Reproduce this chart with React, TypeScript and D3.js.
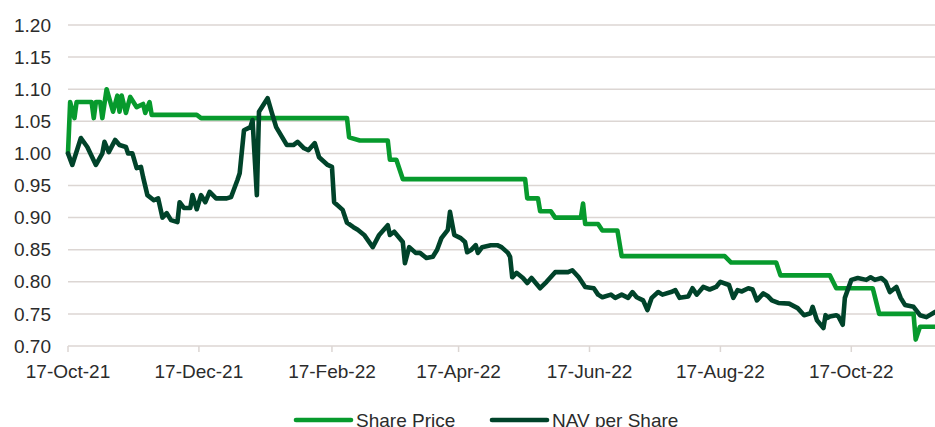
import React, { useEffect, useRef } from "react";
import * as d3 from "d3";

// share price (step-like)
const sharePrice: [string, number][] = [
  ["2021-10-17", 1.0], ["2021-10-18", 1.08], ["2021-10-20", 1.055], ["2021-10-21", 1.08],
  ["2021-10-28", 1.08], ["2021-10-29", 1.055], ["2021-10-30", 1.08], ["2021-11-01", 1.08],
  ["2021-11-02", 1.055], ["2021-11-04", 1.1], ["2021-11-07", 1.065], ["2021-11-09", 1.09],
  ["2021-11-10", 1.065], ["2021-11-11", 1.09], ["2021-11-13", 1.063], ["2021-11-15", 1.088],
  ["2021-11-18", 1.072], ["2021-11-21", 1.077], ["2021-11-22", 1.063], ["2021-11-24", 1.08],
  ["2021-11-25", 1.06], ["2021-12-16", 1.06], ["2021-12-18", 1.055], ["2022-02-24", 1.055],
  ["2022-02-25", 1.025], ["2022-03-02", 1.02], ["2022-03-15", 1.02], ["2022-03-16", 0.99],
  ["2022-03-19", 0.99], ["2022-03-22", 0.96], ["2022-05-18", 0.96], ["2022-05-19", 0.93],
  ["2022-05-24", 0.93], ["2022-05-25", 0.91], ["2022-05-30", 0.91], ["2022-06-01", 0.9],
  ["2022-06-13", 0.9], ["2022-06-14", 0.922], ["2022-06-15", 0.89], ["2022-06-21", 0.89],
  ["2022-06-23", 0.88], ["2022-06-30", 0.88], ["2022-07-02", 0.84], ["2022-08-19", 0.84],
  ["2022-08-22", 0.83], ["2022-09-12", 0.83], ["2022-09-14", 0.81], ["2022-10-07", 0.81],
  ["2022-10-10", 0.79], ["2022-10-27", 0.79], ["2022-10-30", 0.75], ["2022-11-15", 0.75],
  ["2022-11-16", 0.71], ["2022-11-18", 0.73], ["2022-11-25", 0.73],
];

// NAV per share
const navPerShare: [string, number][] = [
  ["2021-10-17", 1.0], ["2021-10-19", 0.982], ["2021-10-23", 1.024], ["2021-10-26", 1.01],
  ["2021-10-30", 0.982], ["2021-11-02", 1.0], ["2021-11-03", 1.018], ["2021-11-05", 1.002],
  ["2021-11-08", 1.021], ["2021-11-10", 1.013], ["2021-11-13", 1.01], ["2021-11-14", 1.0],
  ["2021-11-16", 1.0], ["2021-11-18", 0.977], ["2021-11-20", 0.979], ["2021-11-21", 0.963],
  ["2021-11-23", 0.935], ["2021-11-26", 0.927], ["2021-11-28", 0.93], ["2021-11-30", 0.9],
  ["2021-12-02", 0.907], ["2021-12-04", 0.896], ["2021-12-07", 0.893], ["2021-12-08", 0.924],
  ["2021-12-10", 0.915], ["2021-12-13", 0.915], ["2021-12-14", 0.935], ["2021-12-16", 0.913],
  ["2021-12-18", 0.935], ["2021-12-20", 0.924], ["2021-12-22", 0.94], ["2021-12-25", 0.93],
  ["2021-12-30", 0.93], ["2022-01-01", 0.932], ["2022-01-04", 0.959], ["2022-01-05", 0.969],
  ["2022-01-07", 1.036], ["2022-01-10", 1.041], ["2022-01-11", 1.052], ["2022-01-13", 0.935],
  ["2022-01-14", 1.065], ["2022-01-18", 1.086], ["2022-01-20", 1.063], ["2022-01-22", 1.041],
  ["2022-01-27", 1.013], ["2022-01-30", 1.013], ["2022-02-01", 1.018], ["2022-02-04", 1.008],
  ["2022-02-06", 1.005], ["2022-02-09", 1.016], ["2022-02-11", 0.994], ["2022-02-15", 0.982],
  ["2022-02-17", 0.979], ["2022-02-18", 0.924], ["2022-02-22", 0.912], ["2022-02-24", 0.892],
  ["2022-02-27", 0.885], ["2022-03-01", 0.881], ["2022-03-04", 0.873], ["2022-03-08", 0.854],
  ["2022-03-11", 0.873], ["2022-03-15", 0.888], ["2022-03-16", 0.873], ["2022-03-18", 0.878],
  ["2022-03-22", 0.862], ["2022-03-23", 0.829], ["2022-03-25", 0.854], ["2022-03-28", 0.845],
  ["2022-03-30", 0.845], ["2022-04-02", 0.837], ["2022-04-05", 0.839], ["2022-04-07", 0.85],
  ["2022-04-09", 0.868], ["2022-04-12", 0.881], ["2022-04-13", 0.909], ["2022-04-15", 0.873],
  ["2022-04-18", 0.868], ["2022-04-20", 0.862], ["2022-04-21", 0.846], ["2022-04-23", 0.85],
  ["2022-04-25", 0.857], ["2022-04-26", 0.845], ["2022-04-28", 0.854], ["2022-05-02", 0.857],
  ["2022-05-05", 0.857], ["2022-05-07", 0.854], ["2022-05-10", 0.845], ["2022-05-11", 0.839],
  ["2022-05-12", 0.807], ["2022-05-14", 0.814], ["2022-05-17", 0.806], ["2022-05-19", 0.798],
  ["2022-05-21", 0.806], ["2022-05-25", 0.79], ["2022-05-28", 0.8], ["2022-06-01", 0.815],
  ["2022-06-07", 0.815], ["2022-06-09", 0.818], ["2022-06-12", 0.807], ["2022-06-15", 0.792],
  ["2022-06-19", 0.79], ["2022-06-21", 0.78], ["2022-06-23", 0.776], ["2022-06-27", 0.78],
  ["2022-06-29", 0.775], ["2022-07-02", 0.78], ["2022-07-05", 0.775], ["2022-07-07", 0.784],
  ["2022-07-09", 0.776], ["2022-07-12", 0.771], ["2022-07-14", 0.756], ["2022-07-16", 0.775],
  ["2022-07-19", 0.784], ["2022-07-21", 0.78], ["2022-07-25", 0.784], ["2022-07-27", 0.787],
  ["2022-07-29", 0.775], ["2022-08-02", 0.777], ["2022-08-04", 0.79], ["2022-08-06", 0.78],
  ["2022-08-09", 0.792], ["2022-08-12", 0.788], ["2022-08-15", 0.792], ["2022-08-17", 0.8],
  ["2022-08-21", 0.795], ["2022-08-23", 0.775], ["2022-08-25", 0.787], ["2022-08-27", 0.785],
  ["2022-08-30", 0.79], ["2022-09-01", 0.788], ["2022-09-03", 0.771], ["2022-09-06", 0.782],
  ["2022-09-08", 0.778], ["2022-09-10", 0.771], ["2022-09-13", 0.767], ["2022-09-18", 0.766],
  ["2022-09-22", 0.759], ["2022-09-25", 0.748], ["2022-09-28", 0.751], ["2022-09-29", 0.761],
  ["2022-10-01", 0.74], ["2022-10-04", 0.728], ["2022-10-05", 0.748], ["2022-10-06", 0.744],
  ["2022-10-07", 0.746], ["2022-10-10", 0.748], ["2022-10-11", 0.746], ["2022-10-13", 0.733],
  ["2022-10-14", 0.775], ["2022-10-17", 0.803], ["2022-10-20", 0.806], ["2022-10-24", 0.803],
  ["2022-10-26", 0.807], ["2022-10-28", 0.803], ["2022-10-31", 0.806], ["2022-11-02", 0.8],
  ["2022-11-04", 0.784], ["2022-11-07", 0.792], ["2022-11-09", 0.775], ["2022-11-11", 0.764],
  ["2022-11-15", 0.761], ["2022-11-18", 0.748], ["2022-11-21", 0.745], ["2022-11-25", 0.753],
];

const yTicks = [0.7, 0.75, 0.8, 0.85, 0.9, 0.95, 1.0, 1.05, 1.1, 1.15, 1.2];
const xTicks = ["2021-10-17", "2021-12-17", "2022-02-17", "2022-04-17", "2022-06-17", "2022-08-17", "2022-10-17"];
const seriesNames = ["Share Price", "NAV per Share"];
const seriesColors = ["#079a2d", "#00432a"];

const parse = d3.timeParse("%Y-%m-%d");

export default function App() {
  const ref = useRef<SVGSVGElement>(null);

  useEffect(() => {
    const svg = d3.select(ref.current);
    svg.selectAll("*").remove();

    const font = "'Liberation Sans', Arial, sans-serif";
    const textColor = "#2b2b2b";

    const x = d3.scaleTime()
      .domain([parse("2021-10-17")!, parse("2022-11-25")!])
      .range([68, 935]);
    const y = d3.scaleLinear().domain([0.7, 1.2]).range([346, 25]);

    // gridlines
    svg.append("g")
      .selectAll("line")
      .data(yTicks)
      .enter()
      .append("line")
      .attr("x1", 68)
      .attr("x2", 935)
      .attr("y1", (d) => y(d))
      .attr("y2", (d) => y(d))
      .attr("stroke", "#dcd6d3")
      .attr("stroke-width", 1.5);

    // y labels
    svg.append("g")
      .selectAll("text")
      .data(yTicks)
      .enter()
      .append("text")
      .attr("x", 51)
      .attr("y", (d) => y(d))
      .attr("dy", "0.35em")
      .attr("text-anchor", "end")
      .style("font-family", font)
      .style("font-size", "19px")
      .attr("fill", textColor)
      .text((d) => d.toFixed(2));

    // x ticks
    const xt = svg.append("g")
      .selectAll("g")
      .data(xTicks.map((s) => parse(s)!))
      .enter()
      .append("g");
    xt.append("line")
      .attr("x1", (d) => x(d))
      .attr("x2", (d) => x(d))
      .attr("y1", 346)
      .attr("y2", 352)
      .attr("stroke", "#dcd6d3")
      .attr("stroke-width", 1.5);
    xt.append("text")
      .attr("x", (d) => x(d))
      .attr("y", 378)
      .attr("text-anchor", "middle")
      .style("font-family", font)
      .style("font-size", "19px")
      .attr("fill", textColor)
      .text((d) => d3.timeFormat("%d-%b-%y")(d));

    const line = d3.line<[string, number]>()
      .x((d) => x(parse(d[0])!))
      .y((d) => y(d[1]));

    [sharePrice, navPerShare].forEach((s, i) => {
      svg.append("path")
        .datum(s)
        .attr("d", line)
        .attr("fill", "none")
        .attr("stroke", seriesColors[i])
        .attr("stroke-width", 4.6)
        .attr("stroke-linejoin", "round")
        .attr("stroke-linecap", "round");
    });

    // legend (cut at the bottom edge, as in the source)
    const legendX = [296, 492];
    seriesNames.forEach((name, i) => {
      svg.append("line")
        .attr("x1", legendX[i])
        .attr("x2", legendX[i] + 55)
        .attr("y1", 420)
        .attr("y2", 420)
        .attr("stroke", seriesColors[i])
        .attr("stroke-width", 4.6)
        .attr("stroke-linecap", "round");
      svg.append("text")
        .attr("x", legendX[i] + 60)
        .attr("y", 426.5)
        .style("font-family", font)
        .style("font-size", "19px")
        .attr("fill", textColor)
        .text(name);
    });
  }, []);

  return (
    <svg
      ref={ref}
      width={935}
      height={427}
      style={{ position: "absolute", left: 0, top: 0, background: "#fff" }}
    />
  );
}
